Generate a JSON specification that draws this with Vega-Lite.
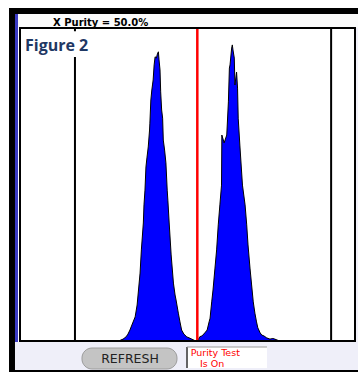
{
  "$schema": "https://vega.github.io/schema/vega-lite/v6.json",
  "width": 335,
  "height": 313,
  "autosize": {"type": "none"},
  "padding": {"left": 20, "top": 28, "right": 3, "bottom": 31},
  "background": "#ffffff",
  "config": {"view": {"stroke": null}},
  "datasets": {
    "hist": [
      {"channel": 275, "count": 0}, {"channel": 300, "count": 0}, {"channel": 306, "count": 0.2},
      {"channel": 315, "count": 0.6}, {"channel": 324, "count": 1.3}, {"channel": 330, "count": 2.2},
      {"channel": 336, "count": 3.5}, {"channel": 342, "count": 5.1}, {"channel": 352, "count": 7.7},
      {"channel": 358, "count": 11.5}, {"channel": 367, "count": 21.7}, {"channel": 371, "count": 29.1},
      {"channel": 377, "count": 37.7}, {"channel": 379, "count": 43.5}, {"channel": 382, "count": 48.2},
      {"channel": 385, "count": 55.6}, {"channel": 388, "count": 58.5}, {"channel": 392, "count": 62.0},
      {"channel": 396, "count": 67.4}, {"channel": 397, "count": 69.6}, {"channel": 400, "count": 77.0},
      {"channel": 403, "count": 80.2}, {"channel": 405, "count": 81.8}, {"channel": 407, "count": 83.4},
      {"channel": 410, "count": 88.2}, {"channel": 413, "count": 90.8}, {"channel": 417, "count": 90.4},
      {"channel": 420, "count": 91.7}, {"channel": 423, "count": 92.4}, {"channel": 425, "count": 89.8},
      {"channel": 428, "count": 86.6}, {"channel": 430, "count": 79.6}, {"channel": 433, "count": 73.8},
      {"channel": 436, "count": 71.2}, {"channel": 438, "count": 64.2}, {"channel": 442, "count": 61.0},
      {"channel": 446, "count": 56.9}, {"channel": 450, "count": 48.2}, {"channel": 452, "count": 45.0},
      {"channel": 456, "count": 37.7}, {"channel": 462, "count": 27.5}, {"channel": 469, "count": 18.5},
      {"channel": 474, "count": 14.7}, {"channel": 477, "count": 13.1}, {"channel": 484, "count": 8.9},
      {"channel": 489, "count": 6.1}, {"channel": 494, "count": 3.5}, {"channel": 501, "count": 2.2},
      {"channel": 510, "count": 1.3}, {"channel": 517, "count": 1.0}, {"channel": 525, "count": 0.6},
      {"channel": 535, "count": 0.1}, {"channel": 541, "count": 0}, {"channel": 544, "count": 0.3},
      {"channel": 550, "count": 1.4}, {"channel": 556, "count": 1.6}, {"channel": 565, "count": 2.6},
      {"channel": 572, "count": 3.5}, {"channel": 578, "count": 6.1}, {"channel": 581, "count": 7.3},
      {"channel": 586, "count": 12.5}, {"channel": 590, "count": 16.3}, {"channel": 596, "count": 23.3},
      {"channel": 601, "count": 29.1}, {"channel": 606, "count": 37.1}, {"channel": 611, "count": 43.5},
      {"channel": 616, "count": 49.8}, {"channel": 617, "count": 65.8}, {"channel": 624, "count": 63.3},
      {"channel": 632, "count": 65.8}, {"channel": 637, "count": 76.4}, {"channel": 640, "count": 87.2},
      {"channel": 642, "count": 88.2}, {"channel": 647, "count": 93.6}, {"channel": 649, "count": 94.6},
      {"channel": 651, "count": 93.0}, {"channel": 655, "count": 90.4}, {"channel": 657, "count": 81.8},
      {"channel": 662, "count": 85.9}, {"channel": 665, "count": 80.8}, {"channel": 667, "count": 71.2},
      {"channel": 672, "count": 62.6}, {"channel": 680, "count": 49.8}, {"channel": 688, "count": 43.5},
      {"channel": 693, "count": 37.1}, {"channel": 697, "count": 30.7}, {"channel": 703, "count": 23.3},
      {"channel": 708, "count": 17.9}, {"channel": 713, "count": 12.5}, {"channel": 718, "count": 8.9},
      {"channel": 723, "count": 6.1}, {"channel": 727, "count": 4.2}, {"channel": 734, "count": 2.6},
      {"channel": 739, "count": 1.9}, {"channel": 746, "count": 1.6}, {"channel": 754, "count": 1.0},
      {"channel": 764, "count": 0.6}, {"channel": 773, "count": 0.8}, {"channel": 779, "count": 0.6},
      {"channel": 786, "count": 0.3}, {"channel": 795, "count": 0}, {"channel": 810, "count": 0}
    ],
    "gates": [
      {"channel": 168, "gate": "left"},
      {"channel": 951, "gate": "right"}
    ],
    "sortgate": [
      {"channel": 542, "gate": "purity"}
    ]
  },
  "layer": [
    {
      "data": {"values": [{}]},
      "mark": {"type": "rect", "color": "#000000", "clip": false},
      "encoding": {
        "x": {"datum": -33.6, "type": "quantitative", "scale": {"domain": [0, 1024], "nice": false, "zero": false}, "axis": null},
        "x2": {"datum": 1034},
        "y": {"datum": 106.4, "type": "quantitative", "scale": {"domain": [0, 100], "nice": false, "zero": false}, "axis": null},
        "y2": {"datum": 104.47}
      }
    },
    {
      "data": {"values": [{}]},
      "mark": {"type": "rect", "color": "#fbfbfb", "clip": false},
      "encoding": {
        "x": {"datum": -15.3, "type": "quantitative"},
        "x2": {"datum": 1034},
        "y": {"datum": 104.47, "type": "quantitative"},
        "y2": {"datum": 100}
      }
    },
    {
      "data": {"values": [{}]},
      "mark": {"type": "rect", "color": "#000000", "clip": false},
      "encoding": {
        "x": {"datum": -33.6, "type": "quantitative"},
        "x2": {"datum": -15.3},
        "y": {"datum": 106.4, "type": "quantitative"},
        "y2": {"datum": -10}
      }
    },
    {
      "data": {"values": [{}]},
      "mark": {"type": "rect", "color": "#3c3cc4", "clip": false},
      "encoding": {
        "x": {"datum": -15.3, "type": "quantitative"},
        "x2": {"datum": -6.1},
        "y": {"datum": 104.47, "type": "quantitative"},
        "y2": {"datum": -0.32}
      }
    },
    {
      "data": {"values": [{}]},
      "mark": {"type": "rect", "color": "#f2f2fb", "clip": false},
      "encoding": {
        "x": {"datum": 1024, "type": "quantitative"},
        "x2": {"datum": 1034},
        "y": {"datum": 100, "type": "quantitative"},
        "y2": {"datum": -0.32}
      }
    },
    {
      "data": {"values": [{}]},
      "mark": {"type": "rect", "color": "#efeff9", "clip": false},
      "encoding": {
        "x": {"datum": -15.3, "type": "quantitative"},
        "x2": {"datum": 1034},
        "y": {"datum": -0.32, "type": "quantitative"},
        "y2": {"datum": -9.27}
      }
    },
    {
      "data": {"values": [{}]},
      "mark": {"type": "rect", "color": "#000000", "clip": false},
      "encoding": {
        "x": {"datum": -33.6, "type": "quantitative"},
        "x2": {"datum": 1034},
        "y": {"datum": -9.27, "type": "quantitative"},
        "y2": {"datum": -10}
      }
    },
    {
      "data": {"name": "hist"},
      "mark": {"type": "area", "color": "#0000ff", "interpolate": "linear"},
      "encoding": {
        "x": {"field": "channel", "type": "quantitative"},
        "y": {"field": "count", "type": "quantitative"}
      }
    },
    {
      "data": {"name": "hist"},
      "mark": {"type": "line", "color": "#000000", "strokeWidth": 1},
      "encoding": {
        "x": {"field": "channel", "type": "quantitative"},
        "y": {"field": "count", "type": "quantitative"}
      }
    },
    {
      "data": {"name": "gates"},
      "mark": {"type": "rule", "color": "#000000", "strokeWidth": 2},
      "encoding": {
        "x": {"field": "channel", "type": "quantitative"}
      }
    },
    {
      "data": {"name": "sortgate"},
      "mark": {"type": "rule", "color": "#ff0000", "strokeWidth": 2.5},
      "encoding": {
        "x": {"field": "channel", "type": "quantitative"}
      }
    },
    {
      "data": {"values": [{}]},
      "mark": {"type": "rect", "color": "#ffffff"},
      "encoding": {
        "x": {"datum": 2, "type": "quantitative"},
        "x2": {"datum": 245},
        "y": {"datum": 99.0, "type": "quantitative"},
        "y2": {"datum": 90.7}
      }
    },
    {
      "data": {"values": [{}]},
      "mark": {"type": "text", "text": "Figure 2", "font": "Open Sans", "fontWeight": "bold", "fontSize": 16, "color": "#1f3864", "align": "left", "baseline": "alphabetic"},
      "encoding": {
        "x": {"datum": 15.3, "type": "quantitative"},
        "y": {"datum": 92.75, "type": "quantitative"}
      }
    },
    {
      "data": {"values": [{}]},
      "mark": {"type": "rect", "fill": null, "fillOpacity": 0, "stroke": "#000000", "strokeWidth": 2, "filled": false},
      "encoding": {
        "x": {"datum": 0, "type": "quantitative"},
        "x2": {"datum": 1024},
        "y": {"datum": 0, "type": "quantitative"},
        "y2": {"datum": 100}
      }
    },
    {
      "data": {"values": [{}]},
      "mark": {"type": "text", "text": "X Purity = 50.0%", "font": "DejaVu Sans", "fontWeight": "bold", "fontSize": 10, "color": "#000000", "align": "left", "baseline": "alphabetic", "clip": false},
      "encoding": {
        "x": {"datum": 100.9, "type": "quantitative"},
        "y": {"datum": 100.64, "type": "quantitative"}
      }
    },
    {
      "data": {"values": [{}]},
      "mark": {"type": "rect", "fill": "#c4c4c4", "stroke": "#9c9c9c", "strokeWidth": 1, "cornerRadius": 10, "clip": false},
      "encoding": {
        "x": {"datum": 189.5, "type": "quantitative"},
        "x2": {"datum": 479.9},
        "y": {"datum": -2.24, "type": "quantitative"},
        "y2": {"datum": -8.95}
      }
    },
    {
      "data": {"values": [{}]},
      "mark": {"type": "text", "text": "REFRESH", "font": "DejaVu Sans", "fontSize": 12.5, "color": "#222222", "align": "center", "baseline": "alphabetic", "clip": false},
      "encoding": {
        "x": {"datum": 336.2, "type": "quantitative"},
        "y": {"datum": -6.87, "type": "quantitative"}
      }
    },
    {
      "data": {"values": [{}]},
      "mark": {"type": "rect", "fill": "#ffffff", "clip": false},
      "encoding": {
        "x": {"datum": 510.5, "type": "quantitative"},
        "x2": {"datum": 755},
        "y": {"datum": -1.92, "type": "quantitative"},
        "y2": {"datum": -8.63}
      }
    },
    {
      "data": {"values": [{}]},
      "mark": {"type": "rule", "color": "#333333", "strokeWidth": 1.5, "clip": false},
      "encoding": {
        "x": {"datum": 510.5, "type": "quantitative"},
        "y": {"datum": -1.92, "type": "quantitative"},
        "y2": {"datum": -8.63}
      }
    },
    {
      "data": {"values": [{}]},
      "mark": {"type": "rule", "color": "#9a9a9a", "strokeWidth": 1, "clip": false},
      "encoding": {
        "x": {"datum": 510.5, "type": "quantitative"},
        "x2": {"datum": 755},
        "y": {"datum": -1.92, "type": "quantitative"}
      }
    },
    {
      "data": {"values": [{}]},
      "mark": {"type": "text", "text": "Purity Test", "font": "DejaVu Sans", "fontSize": 9.5, "color": "#ff0000", "align": "left", "baseline": "alphabetic", "clip": false},
      "encoding": {
        "x": {"datum": 521.7, "type": "quantitative"},
        "y": {"datum": -4.79, "type": "quantitative"}
      }
    },
    {
      "data": {"values": [{}]},
      "mark": {"type": "text", "text": "Is On", "font": "DejaVu Sans", "fontSize": 9.5, "color": "#ff0000", "align": "left", "baseline": "alphabetic", "clip": false},
      "encoding": {
        "x": {"datum": 550.2, "type": "quantitative"},
        "y": {"datum": -8.15, "type": "quantitative"}
      }
    }
  ]
}
